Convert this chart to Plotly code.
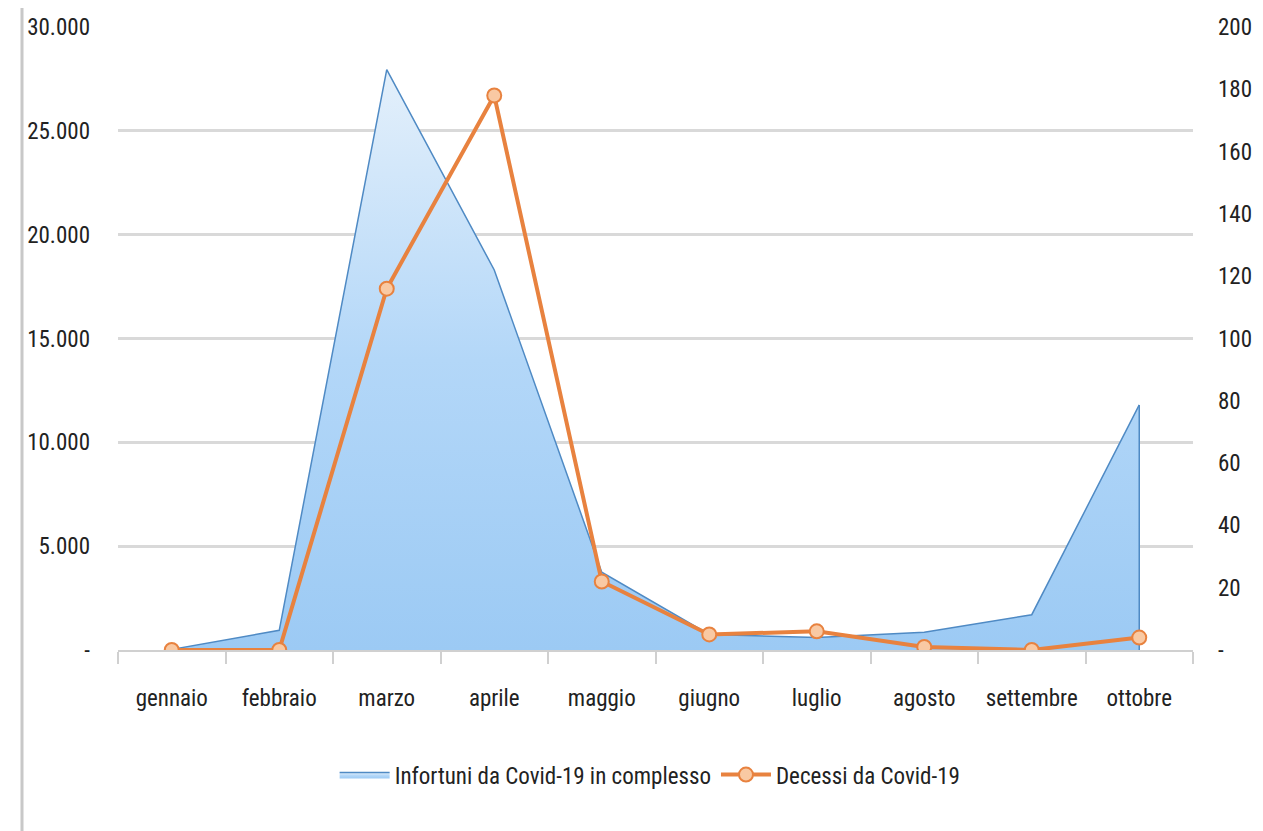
import plotly.graph_objects as go

months = ["gennaio", "febbraio", "marzo", "aprile", "maggio", "giugno",
          "luglio", "agosto", "settembre", "ottobre"]
infortuni = [30, 950, 27950, 18300, 3750, 750, 600, 850, 1700, 11800]
decessi = [0, 0, 116, 178, 22, 5, 6, 1, 0, 4]

left_ticks = [0, 5000, 10000, 15000, 20000, 25000, 30000]
left_text = ["-", "5.000", "10.000", "15.000", "20.000", "25.000", "30.000"]
right_ticks = [0, 20, 40, 60, 80, 100, 120, 140, 160, 180, 200]
right_text = ["-", "20", "40", "60", "80", "100", "120", "140", "160", "180", "200"]

FONT = ("Liberation Sans Narrow, Roboto Condensed, Noto Sans Condensed, "
        "DejaVu Sans Condensed, DejaVu Sans, sans-serif")

fig = go.Figure()
fig.add_trace(go.Scatter(
    x=months, y=infortuni, name="Infortuni da Covid-19 in complesso",
    mode="lines", fill="tozeroy",
    line=dict(color="#4f8ac4", width=1.5),
    fillcolor="#b3d6f7",
    fillgradient=dict(type="vertical",
                      colorscale=[[0, "#9ccaf4"], [0.5, "#b3d7f8"], [1, "#e4f0fb"]]),
    yaxis="y",
))
# closing right edge of the area (drawn down to the baseline at the last category)
fig.add_trace(go.Scatter(
    x=[months[-1], months[-1]], y=[infortuni[-1], 0],
    mode="lines", line=dict(color="#4f8ac4", width=1.5),
    showlegend=False, hoverinfo="skip", yaxis="y",
))
fig.add_trace(go.Scatter(
    x=months, y=decessi, name="Decessi da Covid-19",
    mode="lines+markers",
    line=dict(color="#e8823f", width=4),
    marker=dict(symbol="circle", size=14, color="#f9c9a3",
                line=dict(color="#e8823f", width=2)),
    yaxis="y2",
))

fig.update_layout(
    width=1255, height=823,
    margin=dict(l=110, r=70, t=19, b=181),
    paper_bgcolor="white", plot_bgcolor="white",
    font=dict(family=FONT, size=23, color="#222222"),
    showlegend=True,
    legend=dict(orientation="h", x=0.495, xanchor="center", y=-0.2, yanchor="middle",
                font=dict(size=23), itemwidth=50),
    xaxis=dict(type="category", range=[-0.5, 9.5], showgrid=False,
               showline=True, linecolor="#d0d0d0", linewidth=2,
               ticks="outside", tickson="boundaries", ticklen=12, tickcolor="#d0d0d0",
               tickwidth=2, tickfont=dict(size=23), ticklabelstandoff=26,
               automargin=False),
    yaxis=dict(range=[0, 30000], tickvals=left_ticks, ticktext=left_text,
               showgrid=True, gridcolor="#d9d9d9", gridwidth=2.5, zeroline=False,
               showline=False, ticks="", ticklabelstandoff=27, tickfont=dict(size=23),
               automargin=False),
    yaxis2=dict(range=[0, 200], tickvals=right_ticks, ticktext=right_text,
                overlaying="y", side="right", showgrid=False, zeroline=False,
                showline=False, ticks="", ticklabelstandoff=24, tickfont=dict(size=23),
                automargin=False),
    shapes=[dict(type="line", xref="paper", yref="paper",
                 x0=-0.0893, x1=-0.0893, y0=-0.3, y1=1.05,
                 line=dict(color="#c8c8c8", width=3))],
)

fig.write_html("out.html")
